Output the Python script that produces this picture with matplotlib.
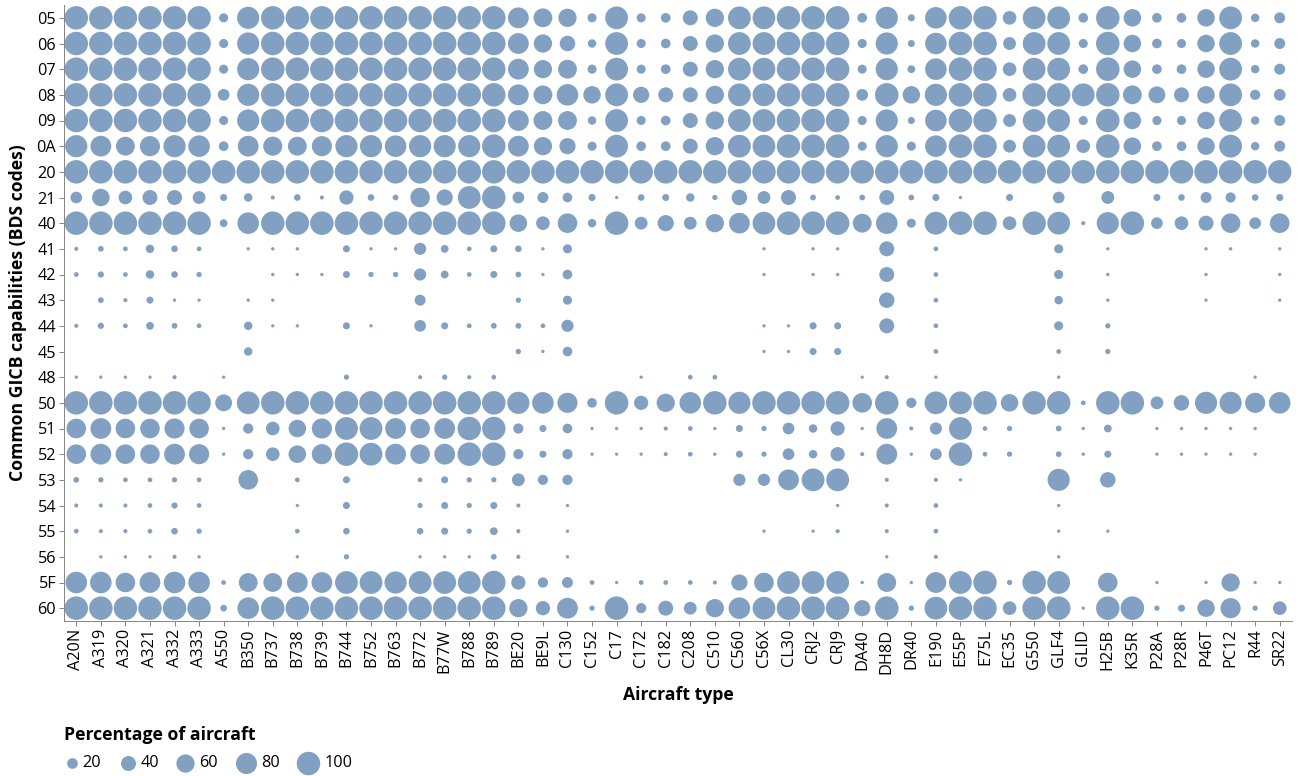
import matplotlib
matplotlib.use("Agg")
import matplotlib.pyplot as plt

aircraft = [
    "A20N", "A319", "A320", "A321", "A332", "A333", "A550", "B350", "B737", "B738",
    "B739", "B744", "B752", "B763", "B772", "B77W", "B788", "B789", "BE20", "BE9L",
    "C130", "C152", "C17", "C172", "C182", "C208", "C510", "C560", "C56X", "CL30",
    "CRJ2", "CRJ9", "DA40", "DH8D", "DR40", "E190", "E55P", "E75L", "EC35", "G550",
    "GLF4", "GLID", "H25B", "K35R", "P28A", "P28R", "P46T", "PC12", "R44", "SR22",
]

bds_codes = ["05", "06", "07", "08", "09", "0A", "20", "21", "40", "41", "42", "43",
             "44", "45", "48", "50", "51", "52", "53", "54", "55", "56", "5F", "60"]

# percentage of aircraft per type supporting each BDS code (0 = not observed)
pct_05 = [100, 100, 100, 100, 100, 100, 14, 89, 100, 100,
          100, 100, 100, 100, 100, 100, 100, 100, 78, 64,
          60, 14, 94, 14, 16, 40, 60, 94, 94, 100,
          100, 100, 16, 89, 8, 84, 100, 100, 33, 94,
          94, 16, 100, 55, 16, 16, 55, 94, 12, 21]
pct_06 = [100, 100, 100, 100, 100, 100, 14, 89, 100, 100,
          100, 100, 100, 100, 100, 100, 100, 100, 78, 60,
          43, 12, 94, 14, 16, 40, 60, 94, 94, 100,
          100, 100, 14, 89, 8, 84, 100, 100, 29, 94,
          94, 14, 100, 55, 16, 14, 55, 94, 12, 21]
pct_07 = [100, 100, 100, 100, 100, 100, 14, 89, 100, 100,
          100, 100, 100, 100, 100, 100, 100, 100, 78, 60,
          64, 14, 94, 14, 16, 40, 60, 94, 94, 100,
          100, 100, 14, 89, 10, 84, 100, 100, 33, 94,
          94, 16, 100, 55, 16, 16, 55, 94, 12, 21]
pct_08 = [100, 100, 100, 100, 100, 100, 24, 89, 100, 100,
          100, 100, 100, 100, 100, 100, 100, 100, 78, 64,
          84, 55, 94, 47, 40, 40, 60, 94, 94, 100,
          100, 100, 24, 100, 55, 89, 100, 100, 33, 100,
          100, 94, 100, 64, 51, 40, 55, 94, 18, 24]
pct_09 = [100, 100, 100, 100, 100, 100, 14, 89, 100, 100,
          100, 100, 100, 100, 100, 100, 100, 100, 78, 64,
          64, 12, 94, 14, 16, 40, 60, 94, 94, 100,
          100, 100, 14, 89, 8, 84, 100, 100, 29, 94,
          94, 14, 100, 55, 14, 14, 55, 94, 12, 21]
pct_0A = [89, 78, 64, 73, 89, 84, 16, 78, 66, 64,
          73, 89, 89, 84, 89, 89, 89, 100, 78, 60,
          47, 14, 94, 16, 16, 40, 60, 94, 94, 100,
          100, 100, 14, 89, 14, 84, 100, 100, 29, 94,
          94, 33, 100, 55, 16, 16, 55, 94, 12, 21]
pct_20 = [100, 100, 100, 100, 100, 100, 100, 100, 100, 100,
          100, 100, 100, 100, 100, 100, 100, 100, 100, 100,
          100, 100, 100, 100, 100, 100, 100, 100, 100, 100,
          100, 100, 100, 100, 100, 100, 100, 100, 100, 100,
          100, 100, 100, 100, 100, 100, 100, 100, 100, 100]
pct_21 = [24, 55, 33, 40, 40, 29, 8, 12, 2, 7,
          2, 36, 7, 5, 69, 47, 94, 100, 24, 21,
          16, 8, 1, 7, 8, 12, 4, 43, 29, 40,
          5, 3, 5, 40, 5, 8, 1, 0, 8, 0,
          24, 0, 29, 0, 8, 7, 21, 18, 7, 8]
pct_40 = [100, 100, 100, 100, 100, 100, 10, 84, 100, 100,
          100, 100, 100, 100, 100, 100, 100, 100, 55, 33,
          69, 12, 100, 29, 47, 29, 60, 78, 94, 100,
          100, 100, 64, 84, 14, 94, 100, 100, 33, 100,
          94, 2, 89, 100, 24, 33, 40, 69, 24, 69]
pct_41 = [2, 5, 3, 12, 7, 3, 0, 1, 1, 1,
          0, 8, 1, 1, 26, 10, 3, 8, 7, 1,
          14, 0, 0, 0, 0, 0, 0, 0, 1, 0,
          1, 1, 0, 40, 0, 3, 0, 0, 0, 0,
          14, 0, 1, 0, 0, 0, 1, 1, 0, 1]
pct_42 = [3, 6, 3, 12, 7, 4, 0, 0, 1, 1,
          1, 8, 4, 4, 26, 10, 3, 8, 5, 1,
          16, 0, 0, 0, 0, 0, 0, 0, 1, 0,
          1, 1, 0, 40, 0, 3, 0, 0, 0, 0,
          14, 0, 1, 0, 0, 0, 1, 0, 0, 1]
pct_43 = [0, 5, 2, 8, 1, 1, 0, 1, 1, 0,
          0, 0, 0, 0, 21, 0, 0, 0, 4, 0,
          14, 0, 0, 0, 0, 0, 0, 0, 0, 0,
          0, 0, 0, 43, 0, 3, 0, 0, 0, 0,
          12, 0, 1, 0, 0, 0, 1, 0, 0, 1]
pct_44 = [2, 6, 3, 10, 5, 3, 0, 12, 1, 1,
          0, 8, 1, 0, 24, 8, 3, 5, 5, 3,
          26, 0, 0, 0, 0, 0, 0, 0, 1, 1,
          8, 8, 0, 40, 0, 3, 0, 0, 0, 0,
          14, 0, 4, 0, 0, 0, 0, 0, 0, 0]
pct_45 = [0, 0, 0, 0, 0, 0, 0, 12, 0, 0,
          0, 0, 0, 0, 0, 0, 0, 0, 4, 1,
          16, 0, 0, 0, 0, 0, 0, 0, 1, 1,
          8, 8, 0, 0, 0, 3, 0, 0, 0, 0,
          3, 0, 4, 0, 0, 0, 0, 0, 0, 0]
pct_48 = [1, 1, 1, 1, 2, 0, 1, 0, 0, 0,
          0, 4, 0, 0, 2, 4, 2, 3, 0, 0,
          0, 0, 0, 1, 0, 3, 3, 0, 0, 0,
          0, 0, 1, 2, 0, 1, 0, 0, 0, 0,
          1, 0, 0, 0, 0, 0, 0, 0, 1, 0]
pct_50 = [100, 100, 100, 100, 100, 100, 51, 94, 100, 100,
          100, 100, 100, 100, 100, 100, 100, 100, 89, 84,
          73, 16, 100, 36, 60, 84, 100, 89, 100, 100,
          100, 100, 69, 100, 18, 94, 94, 100, 55, 100,
          100, 3, 100, 100, 29, 43, 89, 89, 73, 84]
pct_51 = [69, 78, 69, 69, 73, 69, 1, 18, 33, 55,
          73, 94, 94, 78, 69, 78, 100, 100, 18, 8,
          16, 1, 1, 1, 2, 3, 1, 8, 4, 24,
          12, 36, 1, 78, 2, 26, 94, 3, 4, 0,
          5, 1, 10, 0, 1, 1, 1, 1, 1, 0]
pct_52 = [69, 78, 69, 69, 78, 73, 1, 18, 33, 55,
          73, 100, 94, 78, 69, 78, 100, 100, 18, 8,
          18, 1, 1, 1, 2, 3, 1, 8, 4, 24,
          12, 36, 2, 78, 1, 24, 100, 3, 4, 0,
          5, 1, 8, 0, 1, 1, 1, 1, 1, 0]
pct_53 = [5, 4, 3, 3, 4, 3, 0, 69, 0, 3,
          0, 8, 0, 0, 3, 8, 4, 4, 29, 18,
          18, 0, 0, 0, 0, 0, 0, 26, 26, 78,
          94, 94, 0, 2, 0, 2, 1, 0, 0, 0,
          89, 0, 43, 0, 0, 0, 0, 0, 0, 0]
pct_54 = [2, 2, 2, 3, 6, 3, 0, 0, 0, 1,
          0, 8, 0, 0, 4, 8, 4, 8, 2, 0,
          1, 0, 0, 0, 0, 0, 0, 0, 0, 0,
          0, 1, 0, 2, 0, 3, 0, 0, 0, 0,
          1, 0, 0, 0, 0, 0, 0, 0, 0, 0]
pct_55 = [3, 2, 2, 3, 7, 4, 0, 0, 0, 3,
          0, 7, 0, 0, 7, 8, 4, 10, 2, 0,
          1, 0, 0, 0, 0, 0, 0, 0, 1, 0,
          1, 2, 0, 2, 0, 3, 0, 0, 0, 0,
          1, 0, 1, 0, 0, 0, 0, 0, 0, 0]
pct_56 = [0, 1, 1, 1, 2, 1, 0, 0, 0, 1,
          0, 4, 0, 0, 1, 1, 1, 5, 2, 0,
          1, 0, 0, 0, 0, 0, 0, 0, 0, 0,
          0, 0, 0, 1, 0, 2, 0, 0, 0, 0,
          1, 0, 0, 0, 0, 0, 0, 0, 0, 0]
pct_5F = [84, 84, 69, 78, 84, 84, 3, 64, 64, 78,
          78, 94, 94, 89, 94, 94, 94, 100, 36, 18,
          21, 3, 1, 3, 3, 3, 2, 47, 69, 94,
          94, 94, 1, 64, 1, 78, 94, 100, 4, 100,
          94, 0, 69, 0, 1, 0, 1, 60, 1, 1]
pct_60 = [100, 100, 100, 100, 100, 100, 7, 84, 100, 100,
          100, 100, 100, 100, 100, 100, 100, 100, 60, 36,
          78, 4, 100, 18, 40, 29, 60, 84, 94, 100,
          100, 100, 47, 100, 4, 94, 100, 100, 33, 100,
          100, 1, 100, 100, 4, 8, 55, 73, 4, 33]

rows = [pct_05, pct_06, pct_07, pct_08, pct_09, pct_0A, pct_20, pct_21, pct_40,
        pct_41, pct_42, pct_43, pct_44, pct_45, pct_48, pct_50, pct_51, pct_52,
        pct_53, pct_54, pct_55, pct_56, pct_5F, pct_60]

legend_values = [20, 40, 60, 80, 100]

COLOR = "#4c78a8"
GREY = "#888888"
W, H = 1297, 776
LABEL_FS = 11.7
TITLE_FS = 12.7


def area(v):
    # marker area in pt^2, linear in the percentage
    return 3 + 2.83 * v


plt.rcParams["font.family"] = ["Open Sans", "DejaVu Sans"]

fig = plt.figure(figsize=(W / 100, H / 100), dpi=100)
ax = fig.add_axes([64 / W, (H - 621) / H, 1228 / W, 616 / H])

xs, ys, ss = [], [], []
for j, row in enumerate(rows):
    for i, v in enumerate(row):
        if v > 0:
            xs.append(i)
            ys.append(j)
            ss.append(area(v))
ax.scatter(xs, ys, s=ss, color=COLOR, alpha=0.7, linewidths=0)

ax.set_xlim(-0.5, len(aircraft) - 0.5)
ax.set_ylim(len(bds_codes) - 0.5, -0.5)
ax.set_xticks(range(len(aircraft)))
ax.set_xticklabels(aircraft, rotation=90, fontsize=LABEL_FS)
ax.set_yticks(range(len(bds_codes)))
ax.set_yticklabels(bds_codes, fontsize=LABEL_FS)
ax.tick_params(length=3.6, width=0.72, color=GREY, pad=2)
for side in ("top", "right"):
    ax.spines[side].set_visible(False)
for side in ("left", "bottom"):
    ax.spines[side].set_color(GREY)
    ax.spines[side].set_linewidth(0.72)

ax.set_xlabel("Aircraft type", fontsize=TITLE_FS, fontweight="bold")
ax.xaxis.set_label_coords(0.5, -0.105)
ax.set_ylabel("Common GICB capabilities (BDS codes)", fontsize=TITLE_FS, fontweight="bold")
ax.yaxis.set_label_coords(-0.030, 0.5)

# size legend, laid out in pixel coordinates
lax = fig.add_axes([0, 0, 1, 1], zorder=-1)
lax.set_xlim(0, W)
lax.set_ylim(H, 0)
lax.axis("off")
lax.text(64, 735, "Percentage of aircraft", fontsize=TITLE_FS, fontweight="bold",
         ha="left", va="center")
centers = [72, 128, 185, 246, 308]
for cx, v in zip(centers, legend_values):
    lax.scatter([cx], [763], s=area(v), color=COLOR, alpha=0.7, linewidths=0)
    r_px = (area(v) ** 0.5) * 100 / 72 / 2
    lax.text(cx + r_px + 5, 763, str(v), fontsize=LABEL_FS, ha="left", va="center")

fig.savefig("out.png", dpi=100)
